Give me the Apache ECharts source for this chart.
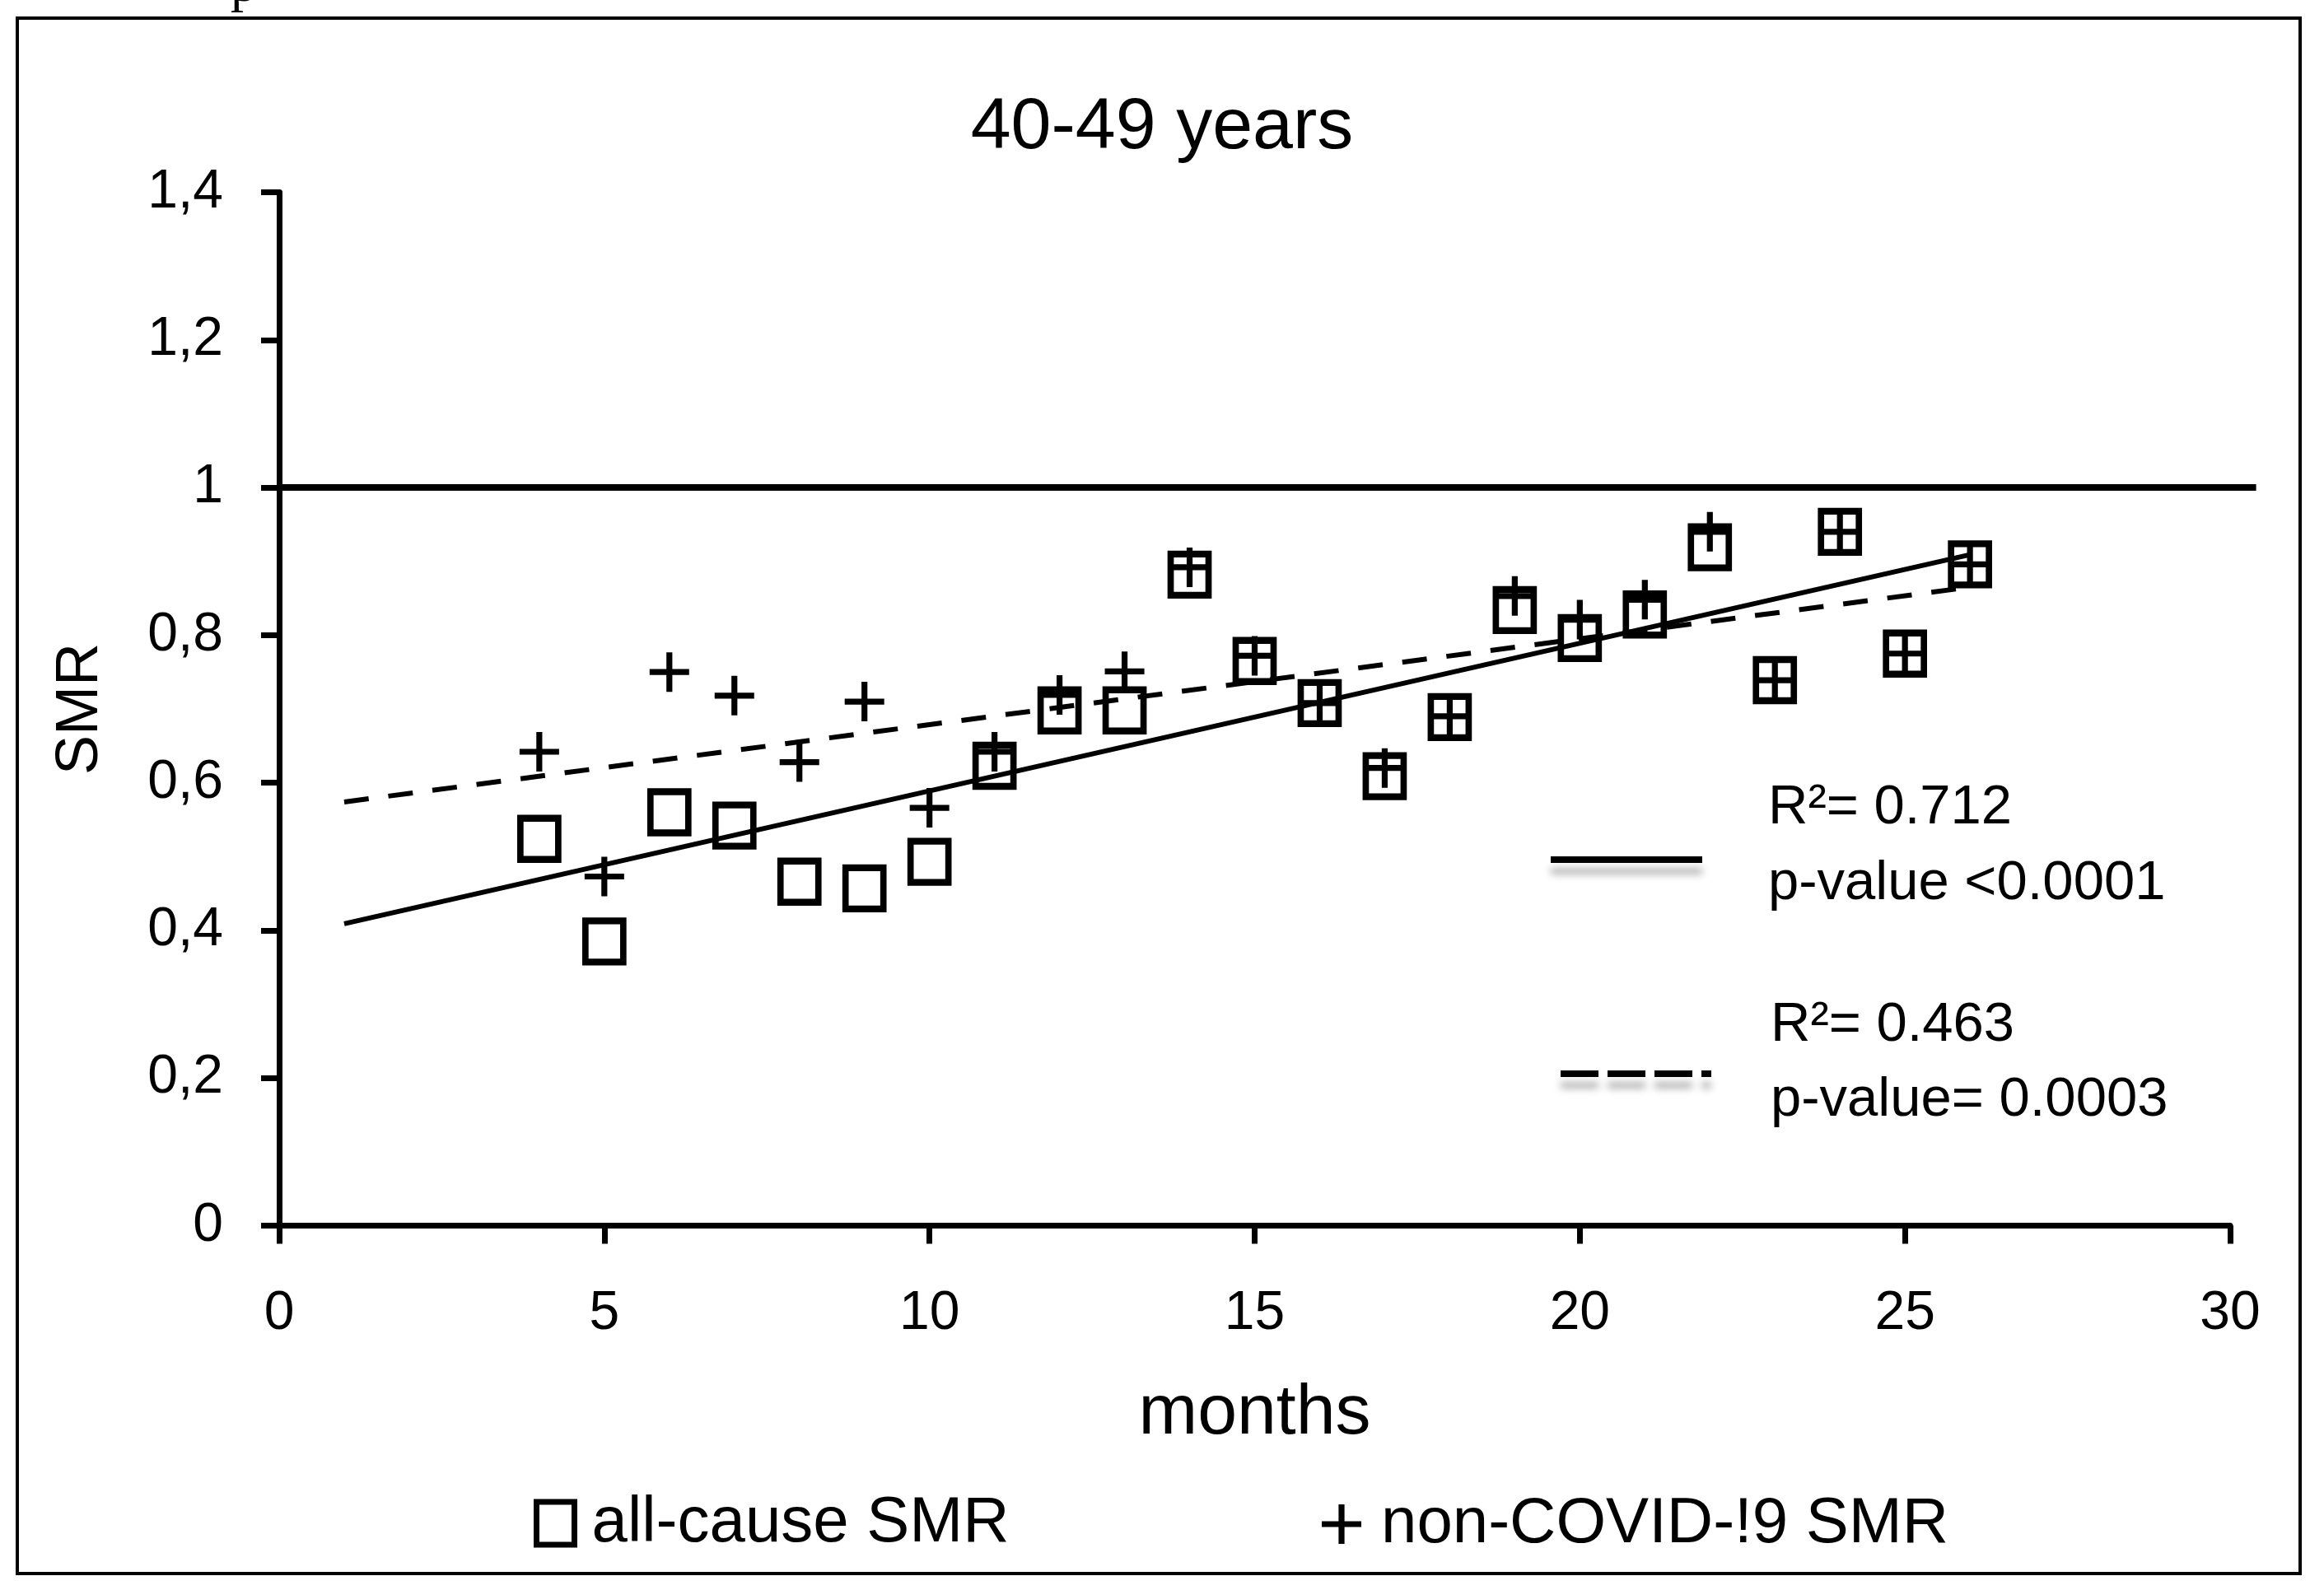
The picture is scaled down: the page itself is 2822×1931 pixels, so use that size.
<!DOCTYPE html>
<html>
<head>
<meta charset="utf-8">
<script src="https://cdn.jsdelivr.net/npm/echarts@6/dist/echarts.min.js"></script>
<style>
html,body{margin:0;padding:0;background:#fff;}
#chart{width:2822px;height:1931px;}
</style>
</head>
<body>
<div id="chart"></div>
<script>
// ---- data ----
const months = [4,5,6,7,8,9,10,11,12,13,14,15,16,17,18,19,20,21,22,23,24,25,26];
const allCauseSMR = [0.524,0.385,0.560,0.542,0.466,0.457,0.493,0.623,0.698,0.698,0.882,0.765,0.708,0.609,0.689,0.834,0.796,0.828,0.919,0.739,0.940,0.775,0.896];
const nonCovidSMR = [0.642,0.473,0.750,0.718,0.628,0.710,0.566,0.642,0.719,0.751,0.892,0.772,0.708,0.620,0.690,0.853,0.821,0.848,0.940,0.739,0.940,0.775,0.896];
// trend line end points (x, y)
const trendX = [1, 26];
const trendAllCause = [0.409, 0.909];
const trendNonCovid = [0.574, 0.865];
// reference line SMR = 1 (drawn slightly past the last x tick, as in the original)
const refLineX = [0, 30.4];
const refLineY = [1, 1];
const seriesNames = ['all-cause SMR', 'non-COVID-!9 SMR'];
const titleText = '40-49 years';
const statsAll = ['R\u00b2= 0.712', 'p-value <0.0001'];
const statsNon = ['R\u00b2= 0.463', 'p-value= 0.0003'];

const FONT = 'Liberation Sans, Arial, sans-serif';
const PLUS = 'path://M6.8,0H9.2V6.8H16V9.2H9.2V16H6.8V9.2H0V6.8H6.8Z';

const chart = echarts.init(document.getElementById('chart'), null, {renderer:'canvas'});

const pairs = (xs, ys) => xs.map((x, i) => [x, ys[i]]);

const GRID_TOP = 233.5, GRID_BOTTOM = 442.5, GRID_LEFT = 339;
const X_UNIT = (2708 - 339) / 30;

const option = {
  animation: false,
  backgroundColor: '#fff',
  textStyle: {fontFamily: FONT, color: '#000'},
  title: {
    text: titleText,
    left: 'center',
    top: 107,
    textStyle: {fontFamily: FONT, fontSize: 88, fontWeight: 'normal', color: '#000', lineHeight: 88}
  },
  grid: [
    {left: GRID_LEFT, right: 114, top: GRID_TOP, bottom: GRID_BOTTOM, containLabel: false},
    {left: GRID_LEFT, right: 2822 - (GRID_LEFT + X_UNIT * refLineX[1]), top: GRID_TOP, bottom: GRID_BOTTOM, containLabel: false}
  ],
  xAxis: [
    {
      type: 'value', min: 0, max: 30, interval: 5, gridIndex: 0,
      name: 'months', nameLocation: 'middle', nameGap: 186,
      nameTextStyle: {fontFamily: FONT, fontSize: 86, color: '#000'},
      axisLine: {lineStyle: {color: '#000', width: 7}},
      axisTick: {show: true, length: 22, lineStyle: {color: '#000', width: 7}},
      axisLabel: {fontSize: 66, color: '#000', margin: 74, fontFamily: FONT},
      splitLine: {show: false}, z: 5
    },
    {type: 'value', min: 0, max: refLineX[1], gridIndex: 1, show: false}
  ],
  yAxis: [
    {
      type: 'value', min: 0, max: 1.4, interval: 0.2, gridIndex: 0,
      name: 'SMR', nameLocation: 'middle', nameGap: 205, nameRotate: 90,
      nameTextStyle: {fontFamily: FONT, fontSize: 72, color: '#000'},
      axisLine: {lineStyle: {color: '#000', width: 7}},
      axisTick: {show: true, length: 22, lineStyle: {color: '#000', width: 7}},
      axisLabel: {fontSize: 66, color: '#000', margin: 68, fontFamily: FONT,
        formatter: v => String(Math.round(v * 10) / 10).replace('.', ',')},
      splitLine: {show: false}, z: 5
    },
    {type: 'value', min: 0, max: 1.4, gridIndex: 1, show: false}
  ],
  legend: [
    {
      data: [{name: seriesNames[0], icon: 'rect',
        itemStyle: {color: 'rgba(0,0,0,0)', borderColor: '#000', borderWidth: 7}}],
      left: 643, top: 1806, itemWidth: 46, itemHeight: 52,
      textStyle: {fontFamily: FONT, fontSize: 78, color: '#000', padding: [0,0,0,16]}
    },
    {
      data: [{name: seriesNames[1], icon: PLUS, itemStyle: {color: '#000', borderWidth: 0}}],
      left: 1600, top: 1807, itemWidth: 48, itemHeight: 48,
      textStyle: {fontFamily: FONT, fontSize: 78, color: '#000', padding: [0,0,0,19]}
    }
  ],
  series: [
    {
      name: 'ref', type: 'line', xAxisIndex: 1, yAxisIndex: 1,
      data: pairs(refLineX, refLineY),
      symbol: 'none', lineStyle: {color: '#000', width: 8}, silent: true, z: 1
    },
    {
      name: 'trendAll', type: 'line', data: pairs(trendX, trendAllCause),
      symbol: 'none', lineStyle: {color: '#000', width: 6}, silent: true, z: 2
    },
    {
      name: 'trendNon', type: 'line', data: pairs(trendX, trendNonCovid),
      symbol: 'none', lineStyle: {color: '#000', width: 6, type: [30, 24]}, silent: true, z: 2
    },
    {
      name: seriesNames[0], type: 'scatter', data: pairs(months, allCauseSMR),
      symbol: 'rect', symbolSize: [46, 50],
      itemStyle: {color: 'rgba(0,0,0,0)', borderColor: '#000', borderWidth: 8, opacity: 1},
      z: 3
    },
    {
      name: seriesNames[1], type: 'scatter', data: pairs(months, nonCovidSMR),
      symbol: PLUS, symbolSize: 48,
      itemStyle: {color: '#000', opacity: 1},
      z: 4
    }
  ],
  graphic: [
    {type: 'rect', shape: {x: 21, y: 22, width: 2772, height: 1889},
     style: {fill: 'none', stroke: '#000', lineWidth: 4}, z: 0, silent: true},
    {type: 'text', x: 280, y: -48,
     style: {text: 'p', fontFamily: 'Liberation Serif, serif', fontSize: 64, fill: '#000'}},
    {type: 'line', shape: {x1: 1883, y1: 1044, x2: 2067, y2: 1044},
     style: {stroke: '#000', lineWidth: 8, shadowColor: 'rgba(0,0,0,0.3)', shadowBlur: 10, shadowOffsetY: 14}},
    {type: 'line', shape: {x1: 1895, y1: 1304, x2: 2078, y2: 1304},
     style: {stroke: '#000', lineWidth: 8, lineDash: [46, 11], shadowColor: 'rgba(0,0,0,0.3)', shadowBlur: 10, shadowOffsetY: 14}},
    {type: 'text', x: 2147, y: 982,
     style: {text: statsAll[0], fontFamily: FONT, fontSize: 67, fill: '#000', verticalAlign: 'middle'}},
    {type: 'text', x: 2147, y: 1074,
     style: {text: statsAll[1], fontFamily: FONT, fontSize: 67, fill: '#000', verticalAlign: 'middle'}},
    {type: 'text', x: 2150, y: 1246,
     style: {text: statsNon[0], fontFamily: FONT, fontSize: 67, fill: '#000', verticalAlign: 'middle'}},
    {type: 'text', x: 2150, y: 1337,
     style: {text: statsNon[1], fontFamily: FONT, fontSize: 67, fill: '#000', verticalAlign: 'middle'}}
  ]
};
chart.setOption(option);
</script>
</body>
</html>
